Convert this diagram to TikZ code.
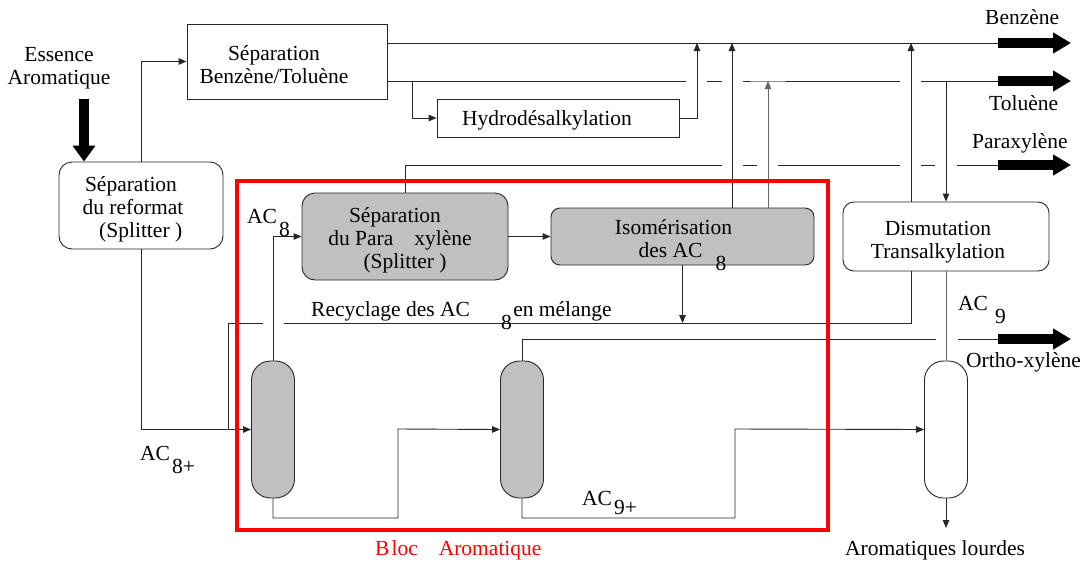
\documentclass[tikz,border=0pt]{standalone}
\usepackage{fontspec}
\setmainfont{Liberation Serif}
\usetikzlibrary{arrows.meta}
\definecolor{colgray}{RGB}{192,192,192}
\definecolor{blocred}{RGB}{255,0,0}
% index set lower than the baseline, with no height or depth of its own
\newcommand{\lowidx}[2][13pt]{\raisebox{-#1}[0pt][0pt]{#2}}
% invisible strut that lowers the text block inside a unit box
\newcommand{\tstrut}[1]{\rule{0pt}{#1}}
\begin{document}
\begin{tikzpicture}[x=1pt,y=-1pt,
  every node/.style={font=\fontsize{21.5}{23}\selectfont, inner sep=0pt},
  flow/.style={draw=black!85, line width=0.9pt},
  arr/.style={flow, -{Triangle[length=8pt,width=6.5pt]}},
  unit/.style={draw=black!85, line width=0.9pt, fill=white, align=center},
  greyunit/.style={unit, fill=colgray},
  column/.style={draw=black!85, line width=0.9pt, rounded corners=19pt,
    minimum width=43pt, minimum height=137pt},
  product/.style={line width=10pt, -{Triangle[length=18pt,width=20pt]}},
  tag/.style={anchor=base west}]
\useasboundingbox (0,0) rectangle (1081,560);

% process units
\node[unit, minimum width=200pt, minimum height=75pt] (benz) at (287,61.5)
  {\tstrut{22pt}Séparation\kern26pt\\Benzène/Toluène\kern26pt};
\node[unit, minimum width=242pt, minimum height=38pt] (hydro) at (558,118)
  {\tstrut{19.5pt}Hydrodésalkylation\kern22pt};
\node[unit, rounded corners=13pt, minimum width=164pt, minimum height=87pt] (reform) at (141,205.5)
  {\tstrut{23.5pt}Séparation\kern20pt\\du reformat\kern16pt\\\ (Splitter\ )\kern6pt};
\node[greyunit, rounded corners=13pt, minimum width=206pt, minimum height=87pt] (para) at (405,236.5)
  {\tstrut{23.5pt}Séparation\kern20pt\\du Para\hspace{21pt}xylène\kern10pt\\(Splitter\ )};
\node[greyunit, rounded corners=9pt, minimum width=263pt, minimum height=57pt] (iso) at (682.5,236.5)
  {\tstrut{19pt}Isomérisation\kern18pt\\des AC\kern13pt\lowidx{8}};
\node[unit, rounded corners=11pt, minimum width=206pt, minimum height=69pt] (dism) at (946,236.5)
  {\tstrut{25pt}Dismutation\kern16pt\\Transalkylation\kern16pt};

% distillation columns
\node[column, fill=colgray] (c1) at (273,429.5) {};
\node[column, fill=colgray] (c2) at (522,429.5) {};
\node[column, fill=white] (c3) at (946,429.5) {};

% product line ends
\coordinate (bzE) at (998,43);
\coordinate (bzT) at (1071,43);
\coordinate (tolE) at (998,81);
\coordinate (tolT) at (1071,81);
\coordinate (pxE) at (998,165);
\coordinate (pxT) at (1071,165);
\coordinate (oxE) at (998,339);
\coordinate (oxT) at (1071,339);
\coordinate (feedTop) at (84,99);
\coordinate (hin) at (412,81);
\coordinate (hout) at (697,43);
\coordinate (isoB) at (732,43);
\coordinate (isoT) at (768,81);
\coordinate (dmB) at (911,43);
\coordinate (dmT) at (946,81);
\coordinate (recJ) at (682.5,323);
\coordinate (recL) at (228,429);
\coordinate (heavy) at (946,528);

% benzene and toluene headers
\draw[flow] (benz.east |- bzE) -- (bzE);
\draw[flow] (benz.east |- tolE) -- (686,81) (707,81) -- (722,81) (743,81) -- (750,81)
  (786,81) -- (900,81) (921,81) -- (tolE);
\draw[flow, draw=black!45] (750,81) -- (786,81);
% paraxylene header
\draw[flow] (para.north) |- (722,165) (743,165) -- (757,165) (778,165) -- (900,165)
  (921,165) -- (935,165) (957,165) -- (pxE);

% hydrodealkylation loop
\draw[arr] (hin) |- (hydro.west);
\draw[arr] (hydro.east) -| (hout);
\draw[arr] (reform.north) |- (benz.west);

% isomerisation and transalkylation links
\draw[arr] (iso.north -| isoB) -- (isoB);
\draw[arr, draw=black!60] (iso.north -| isoT) -- (isoT);
\draw[arr] (dism.north -| dmB) -- (dmB);
\draw[arr] (dmT) -- (dism.north);
\draw[arr] (para.east) -- (iso.west);
\draw[arr] (c1.north) |- (para.west);
\draw[arr] (iso.south) -- (recJ);
\draw[flow] (dism.south -| dmB) |- (284,323) (263,323) -| (recL);

% column train
\draw[arr] (reform.south) |- (c1.west);
\draw[arr] (c1.south) -- (273,518) -| (398,429) -- (c2.west);
\draw[flow] (c2.north) |- (936,339) (958,339) -- (oxE);
\draw[arr] (c2.south) -- (522,518) -| (735,429) -- (c3.west);
\draw[flow, draw=black!60] (c3.north) -- (dism.south);
\draw[arr] (c3.south) -- (heavy);

% feed and product arrows
\draw[line width=10pt, -{Triangle[length=16pt,width=22pt]}] (feedTop) -- (feedTop |- reform.north);
\draw[product] (bzE) -- (bzT);
\draw[product] (tolE) -- (tolT);
\draw[product] (pxE) -- (pxT);
\draw[product] (oxE) -- (oxT);

% aromatics block frame
\draw[blocred, line width=3.5pt] (237,181) rectangle (828,530);

% labels
\node[align=center] (essence) at (59,68) {Essence\\Aromatique};
\node[tag] (lbz) at (985,24) {Benzène};
\node[tag] (ltol) at (989,110) {Toluène};
\node[tag] (lpx) at (972,148) {Paraxylène};
\node[tag] (lox) at (966,367) {Ortho-xylène};
\node[tag] (lheavy) at (845,555) {Aromatiques lourdes};
\node[tag, text=blocred] (lbloc) at (375,555) {B\kern2pt loc\hspace{21pt}Aromatique};
\node[tag] (lac8) at (247,223) {AC\kern2pt\lowidx{8}};
\node[tag] (lac8p) at (140,460) {AC\kern2pt\lowidx{8+}};
\node[tag] (lac9p) at (582,505) {AC\kern2pt\lowidx[9pt]{9+}};
\node[tag] (lac9) at (958,310) {AC\kern7pt\lowidx{9}};
\node[tag] (lrec) at (311,316) {Recyclage des AC\kern31pt\lowidx{8}\kern1.5pt en mélange};
\end{tikzpicture}
\end{document}
